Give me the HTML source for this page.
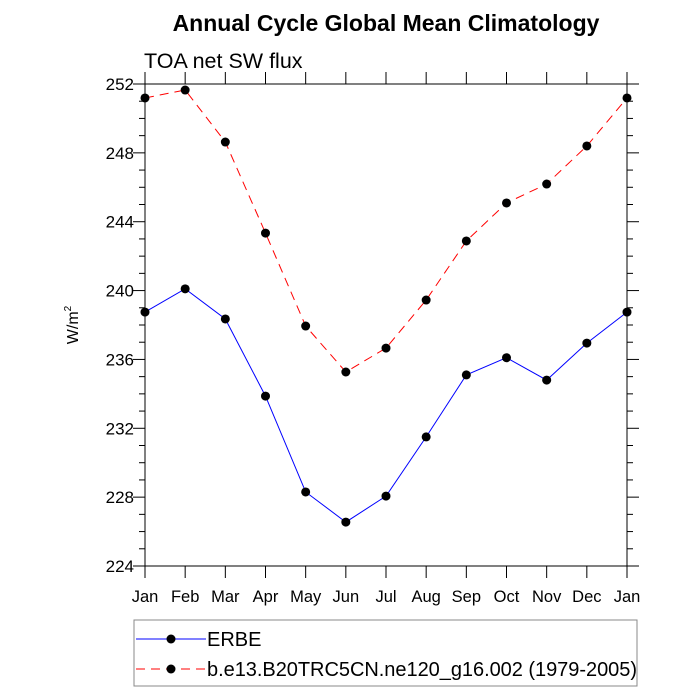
<!DOCTYPE html>
<html><head><meta charset="utf-8"><style>
html,body{margin:0;padding:0;background:#fff;}
svg{display:block;font-family:"Liberation Sans",Arial,sans-serif;}
</style></head><body>
<svg id="chart" width="700" height="700" viewBox="0 0 700 700">
<text x="386" y="31" text-anchor="middle" font-size="23" font-weight="bold">Annual Cycle Global Mean Climatology</text>
<text x="144" y="68" font-size="21.5">TOA net SW flux</text>
<text transform="translate(78,325) rotate(-90)" text-anchor="middle" font-size="16">W/m<tspan font-size="10" dy="-7">2</tspan></text>
<g id="axes"></g>
<g id="series"></g>
<g id="legend">
<rect x="134" y="620" width="503" height="66" fill="none" stroke="#888" stroke-width="1"/>
<g>
<line x1="136" y1="639" x2="206" y2="639" stroke="#0000ff" stroke-width="1"/>
<circle cx="171" cy="639" r="4.5" fill="#000"/>
<text x="207" y="646" font-size="20">ERBE</text>
</g>
<g>
<line x1="136" y1="669" x2="206" y2="669" stroke="#ff0000" stroke-width="1" stroke-dasharray="9,6"/>
<circle cx="171" cy="669" r="4.5" fill="#000"/>
<text x="207" y="676" font-size="20" textLength="430">b.e13.B20TRC5CN.ne120_g16.002 (1979-2005)</text>
</g>
</g>
</svg>
<script>
const months = ["Jan","Feb","Mar","Apr","May","Jun","Jul","Aug","Sep","Oct","Nov","Dec","Jan"];
const erbe = [238.75,240.1,238.35,233.87,228.3,226.55,228.06,231.5,235.1,236.1,234.8,236.95,238.75];
const model = [251.19,251.65,248.63,243.34,237.94,235.27,236.66,239.45,242.88,245.09,246.19,248.4,251.19];
const yTicks = [224,228,232,236,240,244,248,252];

const NS="http://www.w3.org/2000/svg";
const L=145,R=627,T=84,B=566,yMin=224,yMax=252;
const xS=i=>L+(R-L)*i/(months.length-1);
const yS=v=>B-(B-T)*(v-yMin)/(yMax-yMin);
function mk(tag,attrs,parent){const e=document.createElementNS(NS,tag);for(const k in attrs)e.setAttribute(k,attrs[k]);parent.appendChild(e);return e;}
const axes=document.getElementById('axes');
const frame=mk('rect',{x:L,y:T,width:R-L,height:B-T,fill:'none',stroke:'#000','stroke-width':1},axes);


for(let v=yMin;v<=yMax;v++){
  const y=yS(v),major=yTicks.includes(v),len=major?12:6;
  mk('line',{x1:L-len,y1:y,x2:L,y2:y,stroke:'#000'},axes);
  mk('line',{x1:R,y1:y,x2:R+len,y2:y,stroke:'#000'},axes);
}
yTicks.forEach(v=>{
  const t=mk('text',{x:L-11,y:yS(v)+6,'text-anchor':'end','font-size':17},axes);
  t.textContent=v;
  
  
});
months.forEach((m,i)=>{
  const x=xS(i);
  mk('line',{x1:x,y1:B,x2:x,y2:B+12,stroke:'#000'},axes);
  mk('line',{x1:x,y1:T-12,x2:x,y2:T,stroke:'#000'},axes);
  const t=mk('text',{x:x,y:B+36,'text-anchor':'middle','font-size':16.5},axes);
  t.textContent=m;
  
  
});
const sg=document.getElementById('series');
function series(vals,color,dash,name){
  const g=mk('g',{},sg);
  
  
  const pts=vals.map((v,i)=>xS(i)+','+yS(v)).join(' ');
  const a={points:pts,fill:'none',stroke:color,'stroke-width':1};
  if(dash)a['stroke-dasharray']=dash;
  mk('polyline',a,g);
  vals.forEach((v,i)=>{
    const c=mk('circle',{cx:xS(i),cy:yS(v),r:4.5,fill:'#000'},g);
    
    
  });
}
series(erbe,'#0000ff',null,'series-erbe');
series(model,'#ff0000','9,6','series-model');
</script>
</body></html>
